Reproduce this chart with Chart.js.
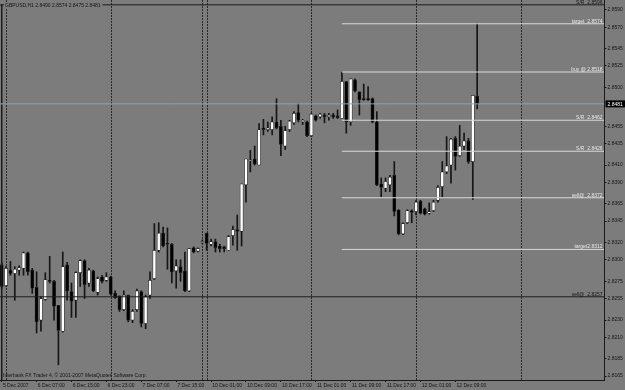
<!DOCTYPE html>
<html><head><meta charset="utf-8">
<script src="https://cdn.jsdelivr.net/npm/chart.js@4/dist/chart.umd.min.js"></script>
<style>html,body{margin:0;padding:0;background:#7c7c7c;overflow:hidden}canvas{display:block}</style>
</head><body>
<canvas id="c" width="625" height="390"></canvas>
<script>
// ---- data ----
const symbolTitle = "GBPUSD,H1 2.8490 2.8574 2.8475 2.8481";
const copyrightText = "Interbank FX Trader 4, \u00A9 2001-2007 MetaQuotes Software Corp.";

const opens = [2.8294,2.8270,2.8288,2.8284,2.8288,2.8290,2.8308,2.8288,2.8268,2.8230,
2.8254,2.8276,2.8275,2.8247,2.8217,2.8294,2.8263,2.8253,2.8285,2.8299,
2.8273,2.8287,2.8262,2.8280,2.8276,2.8280,2.8261,2.8258,2.8242,2.8259,
2.8230,2.8242,2.8263,2.8226,2.8259,2.8278,2.8311,2.8331,2.8319,2.8318,
2.8287,2.8292,2.8287,2.8264,2.8314,2.8310,2.8320,2.8331,2.8318,2.8321,
2.8316,2.8315,2.8311,2.8328,2.8335,2.8333,2.8387,2.8415,2.8417,2.8410,
2.8453,2.8451,2.8451,2.8460,2.8455,2.8432,2.8451,2.8459,2.8471,2.8460,
2.8460,2.8444,2.8467,2.8466,2.8468,2.8466,2.8468,2.8467,2.8464,2.8507,
2.8460,2.8509,2.8495,2.8487,2.8487,2.8487,2.8460,2.8388,2.8383,2.8387,
2.8398,2.8358,2.8330,2.8343,2.8357,2.8356,2.8368,2.8359,2.8354,2.8357,
2.8369,2.8385,2.8402,2.8410,2.8441,2.8421,2.8432,2.8438,2.8414,2.8490];
const highs = [2.8296,2.8292,2.8298,2.8292,2.8293,2.8309,2.8309,2.8290,2.8286,2.8257,
2.8285,2.8304,2.8276,2.8247,2.8309,2.8297,2.8273,2.8286,2.8300,2.8300,
2.8290,2.8288,2.8280,2.8282,2.8285,2.8281,2.8264,2.8258,2.8264,2.8259,
2.8242,2.8266,2.8264,2.8259,2.8286,2.8342,2.8343,2.8338,2.8337,2.8319,
2.8300,2.8300,2.8309,2.8313,2.8315,2.8314,2.8323,2.8331,2.8324,2.8324,
2.8318,2.8316,2.8328,2.8339,2.8352,2.8388,2.8417,2.8427,2.8432,2.8458,
2.8463,2.8460,2.8466,2.8487,2.8462,2.8455,2.8462,2.8472,2.8481,2.8463,
2.8461,2.8470,2.8468,2.8470,2.8470,2.8470,2.8470,2.8474,2.8518,2.8507,
2.8510,2.8510,2.8495,2.8504,2.8501,2.8488,2.8472,2.8395,2.8395,2.8398,
2.8414,2.8358,2.8343,2.8358,2.8358,2.8369,2.8369,2.8360,2.8366,2.8369,
2.8386,2.8414,2.8443,2.8441,2.8443,2.8456,2.8447,2.8441,2.8491,2.8574];
const lows = [2.8267,2.8269,2.8282,2.8253,2.8282,2.8282,2.8282,2.8261,2.8215,2.8217,
2.8253,2.8273,2.8230,2.8178,2.8216,2.8253,2.8233,2.8233,2.8269,2.8255,
2.8269,2.8263,2.8259,2.8273,2.8275,2.8259,2.8255,2.8240,2.8241,2.8228,
2.8227,2.8240,2.8222,2.8220,2.8255,2.8277,2.8309,2.8315,2.8289,2.8273,
2.8267,2.8275,2.8263,2.8263,2.8308,2.8309,2.8319,2.8311,2.8316,2.8309,
2.8309,2.8309,2.8311,2.8317,2.8311,2.8316,2.8367,2.8402,2.8410,2.8410,
2.8445,2.8449,2.8445,2.8452,2.8421,2.8428,2.8449,2.8457,2.8460,2.8457,
2.8443,2.8443,2.8461,2.8464,2.8459,2.8462,2.8464,2.8464,2.8464,2.8447,
2.8456,2.8495,2.8468,2.8485,2.8485,2.8459,2.8386,2.8373,2.8379,2.8379,
2.8351,2.8329,2.8329,2.8342,2.8343,2.8352,2.8353,2.8352,2.8353,2.8356,
2.8367,2.8373,2.8400,2.8389,2.8404,2.8420,2.8428,2.8412,2.8370,2.8475];
const closes = [2.8269,2.8290,2.8284,2.8289,2.8291,2.8308,2.8286,2.8267,2.8228,2.8255,
2.8277,2.8275,2.8246,2.8218,2.8292,2.8264,2.8252,2.8285,2.8299,2.8271,
2.8288,2.8264,2.8278,2.8275,2.8280,2.8260,2.8256,2.8242,2.8259,2.8230,
2.8240,2.8264,2.8226,2.8257,2.8276,2.8311,2.8331,2.8316,2.8318,2.8286,
2.8293,2.8285,2.8264,2.8313,2.8309,2.8313,2.8321,2.8319,2.8321,2.8314,
2.8313,2.8313,2.8327,2.8335,2.8333,2.8388,2.8417,2.8416,2.8411,2.8451,
2.8451,2.8453,2.8460,2.8453,2.8434,2.8450,2.8461,2.8470,2.8462,2.8462,
2.8444,2.8469,2.8462,2.8469,2.8466,2.8468,2.8466,2.8465,2.8507,2.8460,
2.8510,2.8496,2.8486,2.8486,2.8486,2.8460,2.8387,2.8384,2.8391,2.8396,
2.8356,2.8330,2.8342,2.8357,2.8355,2.8367,2.8354,2.8353,2.8356,2.8367,
2.8384,2.8402,2.8409,2.8440,2.8420,2.8432,2.8438,2.8414,2.8491,2.8481];

const xTickIdx = [0,8,16,24,32,40,48,56,64,72,80,88,96,104];
const xTickLabels = ["5 Dec 2007","6 Dec 07:00","6 Dec 15:00","6 Dec 23:00","7 Dec 07:00","7 Dec 15:00",
  "10 Dec 01:00","10 Dec 09:00","10 Dec 17:00","11 Dec 01:00","11 Dec 09:00","11 Dec 17:00","12 Dec 01:00","12 Dec 09:00"];
const yTickValues = [2.8590,2.8570,2.8545,2.8525,2.8500,2.8455,2.8435,2.8410,2.8390,2.8365,
  2.8345,2.8320,2.8300,2.8275,2.8255,2.8230,2.8210,2.8185,2.8165];
const separatorIdx = [1,25,46,47,71,95,119];

const levelPrices = [2.8596,2.8574,2.8518,2.8462,2.8426,2.8372,2.8312,2.8257];
const levelNames  = ["S/R  2.8596","target  2.8574","buy @ 2.8518","S/R  2.8462","S/R  2.8426","sell@  2.8372","target2.8312","sell@  2.8257"];
const levelStartIdx = [-0.39,78,78,78,78,78,78,-0.39];
const levelIsDark = [true,false,false,false,false,false,false,true];
const verticalLineIdx = 0;

// ---- view ----
const X_MIN = -0.39, X_MAX = 138.08, Y_MIN = 2.81604, Y_MAX = 2.86016;
const BG = '#7c7c7c';
const FONT = '"Liberation Sans", Arial, sans-serif';
const lastClose = closes[closes.length-1];

const idx = opens.map((_, i) => i);
const wickData = idx.map(i => ({x: i, y: [lows[i], highs[i]]}));
const bodyData = idx.map(i => ({x: i, y: [Math.min(opens[i], closes[i]), Math.max(opens[i], closes[i])]}));
const bodyColors = idx.map(i => closes[i] >= opens[i] ? '#ffffff' : '#000000');

const lineDatasets = levelPrices.map((p, k) => ({
  type: 'line',
  data: [{x: levelStartIdx[k], y: p}, {x: X_MAX, y: p}],
  borderColor: levelIsDark[k] ? '#1c1c1c' : '#d9d9d9',
  borderWidth: 1, pointRadius: 0, tension: 0, order: 0
}));
lineDatasets.push({
  type: 'line', data: [{x: X_MIN, y: lastClose}, {x: X_MAX, y: lastClose}],
  borderColor: '#8e9fb8', borderWidth: 1, pointRadius: 0, order: 0
});
lineDatasets.push({
  type: 'line', data: [{x: verticalLineIdx, y: levelPrices[0]}, {x: verticalLineIdx, y: Y_MIN}],
  borderColor: '#1c1c1c', borderWidth: 1, pointRadius: 0, order: 0
});

const mtPlugin = {
  id: 'mt',
  beforeDraw(chart) {
    const c = chart.ctx;
    c.save(); c.fillStyle = BG; c.fillRect(0, 0, chart.width, chart.height); c.restore();
  },
  beforeDatasetsDraw(chart) {
    const c = chart.ctx, xs = chart.scales.x, a = chart.chartArea;
    c.save();
    c.strokeStyle = '#2a2a2a'; c.lineWidth = 1; c.setLineDash([2, 1]);
    separatorIdx.forEach(s => {
      const px = Math.round(xs.getPixelForValue(s)) + 0.5;
      c.beginPath(); c.moveTo(px, a.top); c.lineTo(px, a.bottom); c.stroke();
    });
    c.restore();
  },
  afterDatasetsDraw(chart) {
    const c = chart.ctx, ys = chart.scales.y, a = chart.chartArea;
    c.save();
    c.font = '5px ' + FONT;
    const w = c.measureText(symbolTitle).width;
    c.fillStyle = BG; c.fillRect(4, 2, w + 3, 7);
    c.fillStyle = '#141414'; c.textBaseline = 'middle'; c.textAlign = 'left';
    c.fillText(symbolTitle, 5, 5.8);
    c.fillText(copyrightText, 3, 375.5);
    c.textAlign = 'right'; c.textBaseline = 'alphabetic';
    levelPrices.forEach((p, k) => {
      const py = ys.getPixelForValue(p);
      c.fillStyle = levelIsDark[k] ? '#161616' : '#e8e8e8';
      c.fillText(levelNames[k], a.right - 1.5, py - 1);
    });
    c.restore();
  },
  afterDraw(chart) {
    const c = chart.ctx, ys = chart.scales.y, a = chart.chartArea;
    const py = ys.getPixelForValue(lastClose);
    c.save();
    c.fillStyle = '#000'; c.fillRect(a.right + 1.5, py - 3.5, 20, 7);
    c.fillStyle = '#fff'; c.font = '5px ' + FONT; c.textBaseline = 'middle'; c.textAlign = 'left';
    c.fillText(lastClose.toFixed(4), a.right + 3.5, py + 0.3);
    c.restore();
  }
};

new Chart(document.getElementById('c'), {
  type: 'bar',
  data: {
    datasets: [
      ...lineDatasets,
      { type: 'bar', data: bodyData, backgroundColor: bodyColors, borderColor: '#262626',
        borderWidth: 0.7, borderSkipped: false, barThickness: 3.2, grouped: false, order: 2 },
      { type: 'bar', data: wickData, backgroundColor: '#161616', borderWidth: 0,
        barThickness: 1, grouped: false, order: 3 }
    ]
  },
  options: {
    responsive: false, animation: false, devicePixelRatio: 1,
    layout: { padding: 0 },
    plugins: { legend: { display: false }, tooltip: { enabled: false } },
    scales: {
      x: {
        type: 'linear', min: X_MIN, max: X_MAX, offset: false,
        grid: { display: true, drawOnChartArea: false, drawTicks: true, tickLength: 2, color: '#1a1a1a', offset: false },
        border: { display: true, color: '#1a1a1a', width: 1 },
        afterBuildTicks: s => { s.ticks = xTickIdx.map(v => ({ value: v })); },
        afterFit: s => { s.height = 10; s.paddingLeft = 0; s.paddingRight = 0; s.paddingTop = 0; s.paddingBottom = 0; },
        ticks: { autoSkip: false, maxRotation: 0, minRotation: 0, align: 'start', labelOffset: 1.2, padding: 0.5,
          color: '#141414', font: { size: 5, family: FONT },
          callback: (v, i) => xTickLabels[i] }
      },
      y: {
        type: 'linear', position: 'right', min: Y_MIN, max: Y_MAX,
        grid: { display: true, drawOnChartArea: false, drawTicks: true, tickLength: 2.5, color: '#1a1a1a' },
        border: { display: true, color: '#1a1a1a', width: 1 },
        afterBuildTicks: s => { s.ticks = yTickValues.map(v => ({ value: v })); },
        afterFit: s => { s.width = 21; s.paddingTop = 0; s.paddingBottom = 0; s.paddingLeft = 0; s.paddingRight = 0; },
        ticks: { autoSkip: false, padding: 1, color: '#141414', font: { size: 5, family: FONT },
          callback: v => Number(v).toFixed(4) }
      }
    }
  },
  plugins: [mtPlugin]
});
</script>
</body></html>
